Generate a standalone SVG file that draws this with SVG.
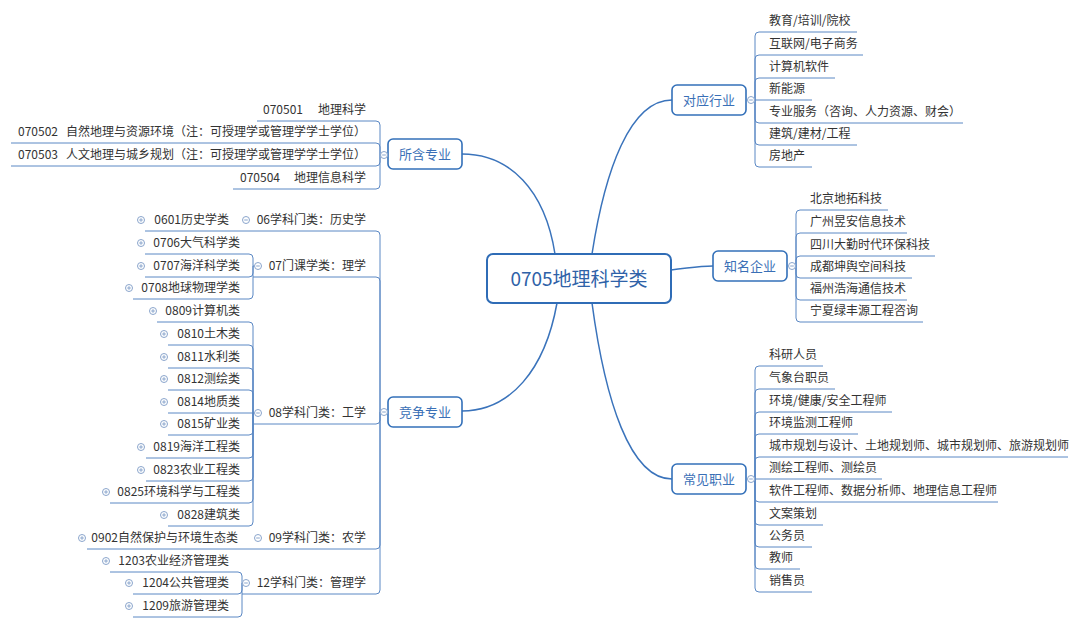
<svg xmlns="http://www.w3.org/2000/svg" width="1080" height="627" viewBox="0 0 1080 627">
<style>
.t{font-family:"Noto Sans CJK SC","Liberation Sans",sans-serif;font-size:12px;fill:#333;text-spacing-trim:space-all}
.e{text-anchor:end}
.n1{font-family:"Noto Sans CJK SC","Liberation Sans",sans-serif;font-size:13px;fill:#3a6fb6;text-anchor:middle}
.box{fill:#fff;stroke:#3370b9;stroke-width:1.6}
.ln{fill:none;stroke:#5b88c4;stroke-width:1}
.cn{fill:none;stroke:#3a73bb;stroke-width:1.5}
.cs{fill:#fff;stroke:#8aa5cc;stroke-width:1}
</style>
<defs>
<g id="cm"><circle class="cs" r="3.5"/><path d="M-1.8 0H1.8" stroke="#8aa5cc" stroke-width="1"/></g>
<g id="cp"><circle class="cs" r="3.5"/><path d="M-1.8 0H1.8M0 -1.8V1.8" stroke="#8aa5cc" stroke-width="1"/></g>
</defs>
<rect width="1080" height="627" fill="#fff"/>

<g id="connectors">
<path class="cn" d="M462 154 C510 154 545 190 555 254"/>
<path class="cn" d="M462 411 C510 411 545 370 557 303"/>
<path class="cn" d="M672 100 C630 100 605 170 592 254"/>
<path class="cn" d="M671 270 C690 268 698 266 713 266"/>
<path class="cn" d="M672 479 C630 479 605 400 592 303"/>

<path class="ln" d="M755 100V36Q755 32 759 32H857M755 100V59Q755 55 759 55H863M755 100V82Q755 78 759 78H835M754.5 100H812M755 100V119Q755 123 759 123H963M755 100V141Q755 145 759 145H857M755 100V163Q755 167 759 167H812"/>
<path class="ln" d="M796 266V214Q796 210 800 210H888M796 266V237Q796 233 800 233H907M796 266V260Q796 256 800 256H935M795.5 266H796V274Q796 278 800 278H912M796 266V296Q796 300 800 300H907M796 266V318Q796 322 800 322H923"/>
<path class="ln" d="M755 479V370Q755 366 759 366H823M755 479V393Q755 389 759 389H835M755 479V416Q755 412 759 412H892M755 479V438Q755 434 759 434H858M755 479V461Q755 457 759 457H1068M754.5 479H882M755 479V498Q755 502 759 502H998M755 479V521Q755 525 759 525H823M755 479V543Q755 547 759 547H812M755 479V565Q755 569 759 569H800M755 479V588Q755 592 759 592H812"/>
<path class="ln" d="M380.5 155H380V125Q380 121 376 121H257M380 155V147Q380 143 376 143H11M380 155V162Q380 166 376 166H11M380 155V185Q380 189 376 189H233"/>
<path class="ln" d="M380.5 412H380V235Q380 231 376 231H145M380 412V281Q380 277 376 277H253M380 412V420Q380 424 376 424H253M380 412V545Q380 549 376 549H87M380 412V590Q380 594 376 594H242"/>
<path class="ln" d="M254.5 266H253V258Q253 254 249 254H145M253 266V273Q253 277 249 277H145M253 266V295Q253 299 249 299H133"/>
<path class="ln" d="M253 413V326Q253 322 249 322H157M253 413V349Q253 345 249 345H168M253 413V372Q253 368 249 368H168M253 413V394Q253 390 249 390H168M254.5 413H168M253 413V431Q253 435 249 435H168M253 413V454Q253 458 249 458H146M253 413V477Q253 481 249 481H146M253 413V499Q253 503 249 503H110M253 413V522Q253 526 249 526H168"/>
<path class="ln" d="M242.5 583H242V576Q242 572 238 572H110M242 583V590Q242 594 238 594H133M242 583V613Q242 617 238 617H133"/>
</g>

<g id="center">
<rect x="487" y="254" width="184" height="49" rx="6" fill="#fff" stroke="#2f6cb6" stroke-width="2"/>
<text x="579" y="286" font-family="Noto Sans CJK SC,Liberation Sans,sans-serif" font-size="19" fill="#2f62a8" text-anchor="middle">0705地理科学类</text>
</g>

<g id="node-suohan">
<rect class="box" x="388" y="139" width="74" height="30" rx="5"/>
<text class="n1" x="425" y="158.5">所含专业</text>
<use href="#cm" x="384" y="155"/>
</g>
<g id="node-jingzheng">
<rect class="box" x="388" y="397" width="74" height="30" rx="5"/>
<text class="n1" x="425" y="416.5">竞争专业</text>
<use href="#cm" x="384" y="412"/>
</g>
<g id="node-duiying">
<rect class="box" x="672" y="85" width="74" height="30" rx="5"/>
<text class="n1" x="709" y="104.5">对应行业</text>
<use href="#cm" x="751" y="100"/>
</g>
<g id="node-zhiming">
<rect class="box" x="713" y="251" width="74" height="30" rx="5"/>
<text class="n1" x="750" y="270.5">知名企业</text>
<use href="#cm" x="792" y="266"/>
</g>
<g id="node-changjian">
<rect class="box" x="672" y="464" width="74" height="30" rx="5"/>
<text class="n1" x="709" y="483.5">常见职业</text>
<use href="#cm" x="751" y="479"/>
</g>

<g id="suohan-children">
<text class="t" y="114"><tspan x="263">070501</tspan><tspan x="366" text-anchor="end">地理科学</tspan></text>
<text class="t" y="136"><tspan x="18">070502</tspan><tspan x="366" text-anchor="end">自然地理与资源环境（注：可授理学或管理学学士学位）</tspan></text>
<text class="t" y="159"><tspan x="18">070503</tspan><tspan x="366" text-anchor="end">人文地理与城乡规划（注：可授理学或管理学学士学位）</tspan></text>
<text class="t" y="182"><tspan x="240">070504</tspan><tspan x="366" text-anchor="end">地理信息科学</tspan></text>
</g>

<g id="cat06"><text class="t e" x="366" y="224">06学科门类：历史学</text><use href="#cm" x="246" y="220"/></g>
<g id="cat07"><text class="t e" x="366" y="270">07门课学类：理学</text><use href="#cm" x="258" y="266"/></g>
<g id="cat08"><text class="t e" x="366" y="417">08学科门类：工学</text><use href="#cm" x="258" y="413"/></g>
<g id="cat09"><text class="t e" x="366" y="542">09学科门类：农学</text><use href="#cm" x="258" y="538"/></g>
<g id="cat12"><text class="t e" x="366" y="587">12学科门类：管理学</text><use href="#cm" x="246" y="583"/></g>

<g id="leaf-0601"><text class="t e" x="229" y="224">0601历史学类</text><use href="#cp" x="141" y="220"/></g>
<g id="leaf-0706"><text class="t e" x="240" y="247">0706大气科学类</text><use href="#cp" x="141" y="243"/></g>
<g id="leaf-0707"><text class="t e" x="240" y="270">0707海洋科学类</text><use href="#cp" x="141" y="266"/></g>
<g id="leaf-0708"><text class="t e" x="240" y="292">0708地球物理学类</text><use href="#cp" x="129" y="288"/></g>
<g id="leaf-0809"><text class="t e" x="240" y="315">0809计算机类</text><use href="#cp" x="153" y="311"/></g>
<g id="leaf-0810"><text class="t e" x="240" y="338">0810土木类</text><use href="#cp" x="164" y="334"/></g>
<g id="leaf-0811"><text class="t e" x="240" y="361">0811水利类</text><use href="#cp" x="164" y="357"/></g>
<g id="leaf-0812"><text class="t e" x="240" y="383">0812测绘类</text><use href="#cp" x="164" y="379"/></g>
<g id="leaf-0814"><text class="t e" x="240" y="406">0814地质类</text><use href="#cp" x="164" y="402"/></g>
<g id="leaf-0815"><text class="t e" x="240" y="428">0815矿业类</text><use href="#cp" x="164" y="424"/></g>
<g id="leaf-0819"><text class="t e" x="240" y="451">0819海洋工程类</text><use href="#cp" x="141" y="447"/></g>
<g id="leaf-0823"><text class="t e" x="240" y="474">0823农业工程类</text><use href="#cp" x="141" y="470"/></g>
<g id="leaf-0825"><text class="t e" x="240" y="496">0825环境科学与工程类</text><use href="#cp" x="106" y="492"/></g>
<g id="leaf-0828"><text class="t e" x="240" y="519">0828建筑类</text><use href="#cp" x="164" y="515"/></g>
<g id="leaf-0902"><text class="t e" x="238" y="542">0902自然保护与环境生态类</text><use href="#cp" x="82" y="538"/></g>
<g id="leaf-1203"><text class="t e" x="229" y="565">1203农业经济管理类</text><use href="#cp" x="106" y="561"/></g>
<g id="leaf-1204"><text class="t e" x="229" y="587">1204公共管理类</text><use href="#cp" x="129" y="583"/></g>
<g id="leaf-1209"><text class="t e" x="229" y="610">1209旅游管理类</text><use href="#cp" x="129" y="606"/></g>

<g id="duiying-children">
<text class="t" x="769" y="25">教育/培训/院校</text>
<text class="t" x="769" y="48">互联网/电子商务</text>
<text class="t" x="769" y="71">计算机软件</text>
<text class="t" x="769" y="93">新能源</text>
<text class="t" x="769" y="116">专业服务（咨询、人力资源、财会）</text>
<text class="t" x="769" y="138">建筑/建材/工程</text>
<text class="t" x="769" y="160">房地产</text>
</g>

<g id="zhiming-children">
<text class="t" x="810" y="203">北京地拓科技</text>
<text class="t" x="810" y="226">广州昱安信息技术</text>
<text class="t" x="810" y="249">四川大勤时代环保科技</text>
<text class="t" x="810" y="271">成都坤舆空间科技</text>
<text class="t" x="810" y="293">福州浩海通信技术</text>
<text class="t" x="810" y="315">宁夏绿丰源工程咨询</text>
</g>

<g id="changjian-children">
<text class="t" x="769" y="359">科研人员</text>
<text class="t" x="769" y="382">气象台职员</text>
<text class="t" x="769" y="405">环境/健康/安全工程师</text>
<text class="t" x="769" y="427">环境监测工程师</text>
<text class="t" x="769" y="450">城市规划与设计、土地规划师、城市规划师、旅游规划师</text>
<text class="t" x="769" y="472">测绘工程师、测绘员</text>
<text class="t" x="769" y="495">软件工程师、数据分析师、地理信息工程师</text>
<text class="t" x="769" y="518">文案策划</text>
<text class="t" x="769" y="540">公务员</text>
<text class="t" x="769" y="562">教师</text>
<text class="t" x="769" y="585">销售员</text>
</g>
</svg>
